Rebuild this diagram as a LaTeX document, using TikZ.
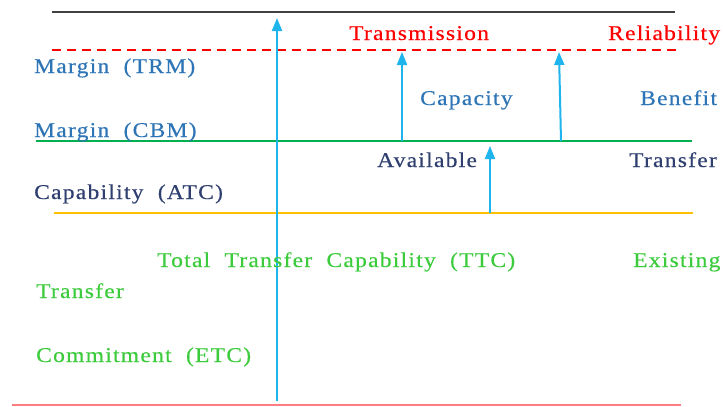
\documentclass[tikz,border=0pt]{standalone}
\usepackage{fontspec}
\setmainfont{Liberation Serif}[FakeStretch=1.12, LetterSpace=6, FakeBold=0.4, WordSpace=2]
\usetikzlibrary{arrows.meta}
\definecolor{lblue}{HTML}{2E75B6}
\definecolor{navy}{HTML}{2F3F6F}
\definecolor{tgreen}{HTML}{3CCB3C}
\definecolor{lgreen}{HTML}{00B050}
\definecolor{amber}{HTML}{FFC000}
\definecolor{pinkred}{HTML}{FF7C80}
\definecolor{sky}{HTML}{1FB4EC}
\tikzset{
  lbl/.style={anchor=base west, inner sep=0pt, font=\fontsize{21}{24}\selectfont},
  uparrow/.style={draw=sky, line width=2pt, -{Triangle[width=10pt,length=13pt]}},
  level/.style={line width=2.6pt}
}
\begin{document}
\begin{tikzpicture}[x=1pt,y=-1pt]
\useasboundingbox (0,0) rectangle (723,407);
% horizontal levels
\draw[line width=1.6pt, black!75] (52,12) coordinate (topL) -- (675,12) coordinate (topR);
\draw[line width=1.6pt, red, dash pattern=on 9pt off 6pt] (52,50) coordinate (trmL) -- (680,50) coordinate (trmR);
\draw[level, lgreen] (36,141) coordinate (cbmL) -- (692,141) coordinate (cbmR);
\draw[level, amber] (54,213) coordinate (atcL) -- (693,213) coordinate (atcR);
\draw[line width=1.8pt, pinkred] (12,405) coordinate (etcL) -- (681,405) coordinate (etcR);
% arrows between levels
\coordinate (a1s) at (277,401); \coordinate (a1e) at (277,18);
\coordinate (a2s) at (402,141); \coordinate (a2e) at (402,52);
\coordinate (a3s) at (561,141); \coordinate (a3e) at (559,52);
\coordinate (a4s) at (490,213); \coordinate (a4e) at (490,146);
\draw[uparrow] (a1s) -- (a1e);
\draw[uparrow] (a2s) -- (a2e);
\draw[uparrow] (a3s) -- (a3e);
\draw[uparrow] (a4s) -- (a4e);
% labels
\node[lbl, text=red] (t1) at (349,40) {Transmission};
\node[lbl, text=red] (t2) at (608,40) {Reliability};
\node[lbl, text=lblue] (t3) at (34,73) {Margin (TRM)};
\node[lbl, text=lblue] (t4) at (420,105) {Capacity};
\node[lbl, text=lblue] (t5) at (640,105) {Benefit};
\node[lbl, text=lblue] (t6) at (34,137) {Margin (CBM)};
\node[lbl, text=navy] (t7) at (377,167) {Available};
\node[lbl, text=navy] (t8) at (629,167) {Transfer};
\node[lbl, text=navy] (t9) at (34,199) {Capability (ATC)};
\node[lbl, text=tgreen] (t10) at (157,267) {\makebox[358pt][s]{Total Transfer Capability (TTC)}};
\node[lbl, text=tgreen] (t11) at (633,267) {Existing};
\node[lbl, text=tgreen] (t12) at (36,298) {Transfer};
\node[lbl, text=tgreen] (t13) at (36,362) {Commitment (ETC)};
\end{tikzpicture}
\end{document}
